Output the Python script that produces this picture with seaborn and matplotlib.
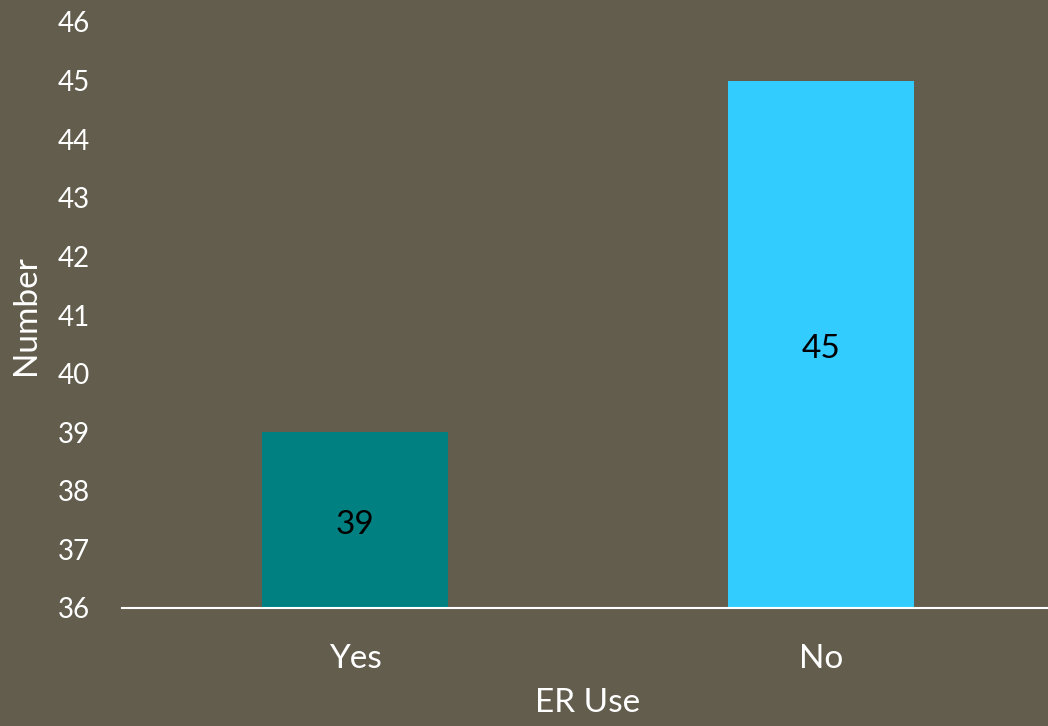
import matplotlib
matplotlib.use("Agg")
import matplotlib.pyplot as plt
import seaborn as sns
import pandas as pd

categories = ["Yes", "No"]
values = [39, 45]
bar_colors = ["#008080", "#33CCFF"]
y_ticks = list(range(36, 47))

bg = "#635D4D"

sns.set_theme(style="white")
plt.rcParams["font.family"] = ["Lato", "DejaVu Sans"]

df = pd.DataFrame({"ER Use": categories, "Number": values})

fig = plt.figure(figsize=(10.48, 7.26), dpi=100, facecolor=bg)
ax = fig.add_axes([122 / 1048, 1 - 608 / 726, 932 / 1048, 586 / 726])
ax.set_facecolor(bg)

sns.barplot(data=df, x="ER Use", y="Number", hue="ER Use", palette=bar_colors,
            width=0.40, ax=ax, legend=False, saturation=1, linewidth=0)

ax.set_ylim(36, 46)
ax.set_yticks(y_ticks)
ax.set_yticklabels([str(t) for t in y_ticks], fontsize=20, color="white")
ax.tick_params(axis="y", length=0, pad=23)
ax.tick_params(axis="x", length=0, pad=26, labelsize=24, labelcolor="white")

for s in ["top", "right", "left"]:
    ax.spines[s].set_visible(False)
ax.spines["bottom"].set_color("white")
ax.spines["bottom"].set_linewidth(1.5)

ax.set_xlabel("ER Use", fontsize=24, color="white", labelpad=10)
ax.set_ylabel("Number", fontsize=24, color="white", labelpad=12)

for i, v in enumerate(values):
    ax.text(i, 36 + (v - 36) / 2 - 0.08, str(v), ha="center", va="center",
            fontsize=24, color="black")

fig.savefig("out.png", dpi=100, facecolor=bg)
